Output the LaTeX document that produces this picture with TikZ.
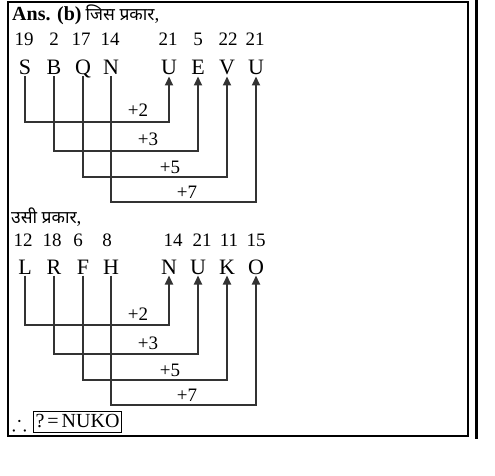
\documentclass[tikz,border=0pt]{standalone}
\usepackage{amssymb}
\usepackage{fontspec}
\setmainfont{Liberation Serif}
\newfontfamily\hindi[Script=Devanagari,Scale=0.92]{Noto Sans}
\usetikzlibrary{arrows.meta}

\tikzset{
  num/.style={anchor=base,inner sep=0pt,font=\fontsize{19}{22}\selectfont},
  lett/.style={anchor=base,inner sep=0pt,outer sep=1.5pt,text height=15pt,text depth=0pt,font=\fontsize{22}{24}\selectfont},
  addlbl/.style={anchor=base,inner sep=0pt,font=\fontsize{19}{22}\selectfont},
  link/.style={draw=black!80,line width=1.8pt},
}

\begin{document}
\begin{tikzpicture}[x=1pt,y=-1pt,>={Triangle[length=9pt,width=8pt]}]
\useasboundingbox (0,0) rectangle (495,476);
\draw[line width=1.3pt] (8,2) rectangle (468,436);
\draw[line width=3pt] (476.5,0) -- (476.5,439);

% first block
\node[num,anchor=base west] (head1) at (12,21) {{\fontsize{20}{22}\selectfont\textbf{Ans. (b)}}\hspace{4pt}{\hindi जिस प्रकार},};
\node[num] (n1) at (24,46) {19};
\node[num] (n2) at (54,46) {2};
\node[num] (n3) at (81,46) {17};
\node[num] (n4) at (110,46) {14};
\node[num] (n5) at (168,46) {21};
\node[num] (n6) at (198,46) {5};
\node[num] (n7) at (228,46) {22};
\node[num] (n8) at (255,46) {21};
\node[lett] (S) at (25,75) {S};
\node[lett] (B) at (54,75) {B};
\node[lett] (Q) at (83,75) {Q};
\node[lett] (N) at (111,75) {N};
\node[lett] (U) at (169,75) {U};
\node[lett] (E) at (198,75) {E};
\node[lett] (V) at (227,75) {V};
\node[lett] (U2) at (256,75) {U};
\coordinate (a1) at (0,122);
\coordinate (a2) at (0,151);
\coordinate (a3) at (0,177);
\coordinate (a4) at (0,202);
\draw[link,->] (S) -- (S |- a1) -| (U);
\draw[link,->] (B) -- (B |- a2) -| (E);
\draw[link,->] (Q) -- (Q |- a3) -| (V);
\draw[link,->] (N) -- (N |- a4) -| (U2);
\node[addlbl] (p1) at (138,117) {+2};
\node[addlbl] (p2) at (148,146) {+3};
\node[addlbl] (p3) at (170,173) {+5};
\node[addlbl] (p4) at (187,198) {+7};

% second block
\node[num,anchor=base west] (head2) at (11,223) {{\hindi उसी प्रकार},};
\node[num] (m1) at (23,246) {12};
\node[num] (m2) at (52,246) {18};
\node[num] (m3) at (78,246) {6};
\node[num] (m4) at (107,246) {8};
\node[num] (m5) at (173,246) {14};
\node[num] (m6) at (202,246) {21};
\node[num] (m7) at (229,246) {11};
\node[num] (m8) at (256,246) {15};
\node[lett] (L) at (25,274) {L};
\node[lett] (R) at (54,274) {R};
\node[lett] (F) at (83,274) {F};
\node[lett] (H) at (111,274) {H};
\node[lett] (N2) at (169,274) {N};
\node[lett] (U3) at (198,274) {U};
\node[lett] (K) at (227,274) {K};
\node[lett] (O) at (256,274) {O};
\coordinate (b1) at (0,325);
\coordinate (b2) at (0,354);
\coordinate (b3) at (0,380);
\coordinate (b4) at (0,405);
\draw[link,->] (L) -- (L |- b1) -| (N2);
\draw[link,->] (R) -- (R |- b2) -| (U3);
\draw[link,->] (F) -- (F |- b3) -| (K);
\draw[link,->] (H) -- (H |- b4) -| (O);
\node[addlbl] (q1) at (138,320) {+2};
\node[addlbl] (q2) at (148,349) {+3};
\node[addlbl] (q3) at (170,376) {+5};
\node[addlbl] (q4) at (187,401) {+7};

% result
\node[num,anchor=base west,font=\fontsize{22}{24}\selectfont] (thf) at (12,430) {$\therefore$};
\node[draw,line width=1pt,inner sep=2pt,text height=14pt,text depth=3pt,font=\fontsize{20}{22}\selectfont] (ans) at (77.5,422) {?\hspace{3pt}=\hspace{3pt}NUKO};
\end{tikzpicture}
\end{document}
